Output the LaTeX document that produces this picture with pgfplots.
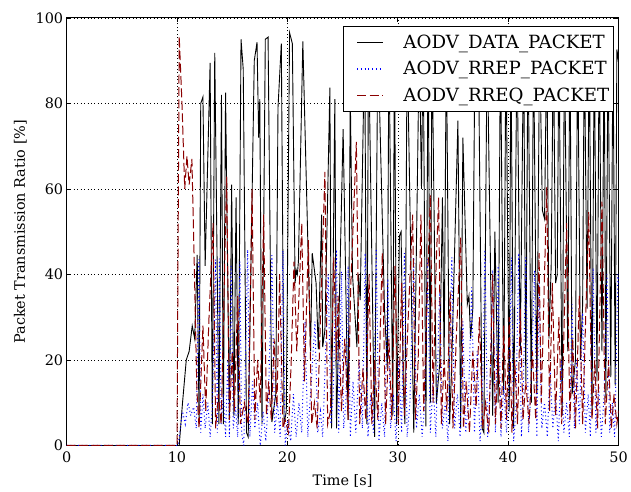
\documentclass[border=0pt]{standalone}
\usepackage{fontspec}
\setmainfont{DejaVu Serif}
\usepackage{pgfplots}
\pgfplotsset{compat=1.18}

\begin{document}
\begin{tikzpicture}
\definecolor{rreqRed}{HTML}{8B0000}
\begin{axis}[
	scale only axis,
	width=555pt, height=430pt,
	xmin=0, xmax=50, ymin=0, ymax=100,
	xtick={0,10,...,50}, ytick={0,20,...,100},
	/pgf/number format/assume math mode=true,
	tick label style={font=\fontsize{14.5}{17}\selectfont},
	xticklabel style={yshift=-3pt},
	label style={font=\fontsize{14.5}{17}\selectfont},
	xlabel={Time [s]},
	xlabel style={yshift=-5pt},
	ylabel={Packet Transmission Ratio [\%]},
	ylabel style={yshift=2pt},
	grid=major,
	major grid style={draw=black, line width=0.5pt, dash pattern=on 1pt off 2.5pt},
	axis line style={draw=black, line width=0.8pt},
	tick style={draw=black, line width=0.6pt},
	major tick length=4.5pt,
	tick align=inside,
	legend cell align=left,
	legend style={
		at={(0.991,0.979)}, anchor=north east,
		name=leg, draw=none, fill=white,
		font=\fontsize{18.3}{21}\selectfont,
		inner xsep=2pt, inner ysep=6pt, row sep=7.5pt,
		/tikz/every odd column/.append style={column sep=18pt},
	},
	legend image code/.code={\path (-11pt,0pt); \draw[#1,line width=1.1pt] (0pt,0pt) -- (26pt,0pt);},
]

% AODV_DATA_PACKET
\addplot[black, solid, line width=0.9pt] coordinates {
(0,0) (10.1,0) (10.2,0) (10.5,10) (10.84,20) (11.1,22) (11.38,28) (11.6,25) (11.83,44.6)
(12.0,5) (12.15,80) (12.35,81.5) (12.55,42) (13.0,89.5) (13.2,5) (13.42,91.8) (13.8,5)
(14.03,82) (14.2,5) (14.4,82.5) (14.6,38) (14.75,6) (14.95,61) (15.15,7) (15.35,58)
(15.55,5) (15.8,95) (16.0,88) (16.3,3) (16.45,2) (17.0,90) (17.25,94.3) (17.4,72)
(17.5,81) (17.7,5) (18.0,95) (18.25,95.5) (18.6,5.5) (18.95,12) (19.15,79) (19.45,94)
(19.7,5) (19.9,8) (20.2,96.5) (20.45,94) (20.7,38) (20.8,41) (20.9,40) (21.0,43)
(21.4,94.5) (22.1,22) (22.25,45) (22.6,38) (22.8,22.5) (23.1,54) (23.2,23) (23.4,27)
(23.85,83.7) (24.0,4) (24.3,81) (24.45,4) (25.05,74) (25.5,6) (25.7,82) (25.9,40)
(26.3,23) (26.45,40) (26.6,34) (27.0,95) (27.2,5) (27.35,95) (27.9,2) (28.2,95)
(28.8,32) (29.05,18) (29.2,95) (29.55,7) (29.7,95) (29.9,5) (30.15,49) (30.3,50)
(30.5,14) (30.65,5) (30.85,95) (31.45,3) (31.8,66) (31.95,95) (32.15,60) (32.3,95)
(32.55,4.5) (32.75,95) (32.95,10) (33.1,95) (33.5,10) (33.8,19) (34.05,58) (34.2,19)
(34.4,95) (34.7,5) (34.9,20) (35.45,76) (35.7,4) (35.9,72) (36.3,33) (36.45,35)
(36.6,25) (36.8,32) (37.0,95) (37.3,95) (37.65,4) (37.8,3) (38.1,95) (38.6,7)
(38.8,50) (39.1,10) (39.3,95) (39.6,12) (39.8,95) (40.1,8) (40.25,95) (40.5,4)
(40.8,95) (41.1,22) (41.4,95) (41.6,15) (41.8,95) (42.1,10) (42.3,95) (42.6,12)
(42.85,95) (43.1,55) (43.3,53) (43.5,95) (43.7,25) (43.9,42) (44.1,95) (44.3,38)
(44.45,40) (44.6,95) (44.9,7) (45.1,95) (45.4,22) (45.6,95) (45.8,12) (46.1,20)
(46.3,95) (46.55,20) (46.75,33) (46.9,95) (47.15,32) (47.35,95) (47.6,7) (47.8,95)
(48.05,15) (48.25,95) (48.5,22) (48.7,95) (48.85,11) (49.05,95) (49.3,16) (49.5,95)
(49.7,14) (49.85,92.6) (50,90)
};
\addlegendentry{AODV\_DATA\_PACKET}

% AODV_RREP_PACKET
\addplot[blue, line width=1pt, dash pattern=on 1pt off 2.8pt] coordinates {
(0,0) (10.1,0) (10.25,3) (10.5,8) (10.75,5) (11.0,10) (11.25,7) (11.5,9) (11.75,4)
(11.98,43.6) (12.15,3) (12.35,12) (12.55,4) (12.8,10) (13.0,2) (13.2,9) (13.5,43.5)
(13.65,3) (13.85,43.7) (14.0,5) (14.2,12) (14.4,2) (14.6,20) (14.75,2) (14.9,42)
(15.1,4) (15.3,9) (15.5,2) (15.7,43) (15.85,3) (16.05,0) (16.4,45.8) (16.6,2)
(16.85,15) (17.05,4) (17.3,10) (17.55,0) (17.8,8) (18.05,1) (18.3,12) (18.6,44.5)
(18.85,3) (19.1,10) (19.35,2) (19.6,45.6) (19.8,0) (20.05,6) (20.3,1) (20.55,12)
(20.8,2) (21.05,10) (21.3,3) (21.6,29) (21.85,2) (22.1,12) (22.5,29) (22.75,3)
(23.0,8) (23.2,2) (23.7,40) (23.95,5) (24.15,12) (24.45,45.8) (24.65,3) (24.9,40.7)
(25.1,4) (25.3,10) (25.5,42) (25.7,2) (25.95,15) (26.2,3) (26.5,20) (26.8,4)
(27.05,45) (27.3,2) (27.55,12) (27.8,3) (28.05,46) (28.3,1) (28.55,10) (28.8,2)
(29.1,39) (29.35,4) (29.6,12) (29.85,1) (30.1,20) (30.35,3) (30.6,45) (30.85,2)
(31.1,10) (31.45,44) (31.7,4) (31.95,12) (32.2,2) (32.45,10) (32.7,43.5) (32.95,3)
(33.2,15) (33.45,2) (33.8,37) (34.05,4) (34.3,10) (34.55,1) (34.9,44) (35.15,4)
(35.4,12) (35.65,2) (35.9,29) (36.15,3) (36.4,10) (36.7,37) (36.95,3) (37.2,22)
(37.45,1) (37.65,8) (37.9,45.8) (38.15,2) (38.35,12) (38.6,41) (38.85,3) (39.1,42)
(39.35,2) (39.6,14) (39.85,3) (40.05,10) (40.3,44) (40.5,1) (40.7,8) (40.96,45)
(41.2,2) (41.35,10) (41.6,44) (41.85,3) (42.05,12) (42.4,41) (42.6,2) (42.8,38)
(43.05,4) (43.3,10) (43.55,2) (43.8,18) (44.05,4) (44.3,12) (44.55,1) (44.8,20)
(45.05,3) (45.3,10) (45.55,2) (45.8,33) (46.0,4) (46.2,20) (46.45,5) (46.75,31)
(47.0,3) (47.25,12) (47.45,2) (47.7,41.5) (47.95,3) (48.2,14) (48.45,2) (48.7,12)
(48.95,40) (49.2,3) (49.45,10) (49.65,2) (49.95,40) (50,38)
};
\addlegendentry{AODV\_RREP\_PACKET}

% AODV_RREQ_PACKET
\addplot[rreqRed, line width=1pt, dash pattern=on 9pt off 3.5pt] coordinates {
(0,0) (10.0,0) (10.2,95.7) (10.45,80) (10.7,60) (10.9,67.7) (11.1,61) (11.35,67)
(11.55,44) (11.8,13) (12.0,4) (12.35,28) (12.6,8) (12.9,30) (13.27,52) (13.5,4)
(13.75,12) (14.0,5) (14.5,63) (14.75,6) (15.0,22) (15.2,8) (15.5,35) (15.75,5)
(16.1,10) (16.45,5) (16.8,60) (17.05,6) (17.3,20) (17.55,10) (17.85,54) (18.1,7)
(18.3,15) (18.55,6) (18.8,25) (19.05,9) (19.3,40) (19.6,4) (19.8,6) (20.1,3)
(20.35,20) (20.6,43) (20.85,22) (21.05,35) (21.3,52) (21.55,15) (21.9,48) (22.2,5)
(22.45,10) (22.7,4) (23.0,30) (23.4,64) (23.65,5) (23.9,8) (24.2,44) (24.45,20)
(24.6,35) (24.9,8) (25.2,25) (25.5,6) (25.75,38) (26.25,71) (26.55,5) (26.85,18)
(27.1,6) (27.4,40) (27.65,5) (27.9,20) (28.2,6) (28.6,45) (28.9,5) (29.2,25)
(29.45,6) (29.75,42) (30.05,5) (30.35,38) (30.6,7) (30.95,30) (31.35,54) (31.6,6)
(31.85,20) (32.1,54) (32.35,8) (32.95,58.6) (33.2,10) (33.45,40) (33.7,58) (33.95,5)
(34.2,20) (34.45,8) (34.75,36) (35.0,4) (35.3,25) (35.7,48.6) (35.95,4) (36.2,15)
(36.5,3) (36.8,22) (37.1,9) (37.4,30) (37.7,4) (37.95,10) (38.25,3) (38.6,40)
(38.85,5) (39.1,22) (39.35,4) (39.6,28) (39.85,6) (40.1,30) (40.35,3) (40.6,20)
(40.85,5) (41.1,32) (41.35,6) (41.6,15) (41.9,5) (42.2,22) (42.5,6) (42.8,45)
(43.0,10) (43.5,60.5) (43.75,8) (44.0,38) (44.3,7) (44.6,30) (44.85,5) (45.3,52)
(45.6,6) (45.85,25) (46.1,4) (46.45,35) (46.75,5) (47.3,54.6) (47.6,6) (47.85,20)
(48.1,4) (48.5,57) (48.8,5) (49.1,20) (49.35,4) (49.6,12) (49.85,5) (50,8)
};
\addlegendentry{AODV\_RREQ\_PACKET}

\coordinate (o) at (rel axis cs:0,0);
\end{axis}
% legend frame
\draw[black, line width=0.8pt] (leg.south west) rectangle (leg.north east);
% page frame matching the reference margins
\path (o) ++(-67pt,-46pt) rectangle ++(631pt,494pt);
\end{tikzpicture}
\end{document}
